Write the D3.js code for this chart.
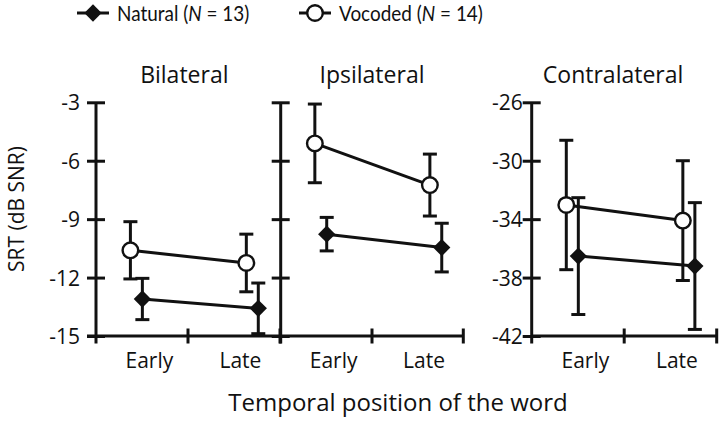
<!DOCTYPE html>
<html><head><meta charset="utf-8">
<script src="https://cdn.jsdelivr.net/npm/d3@7"></script>
<style>
html,body{margin:0;padding:0;background:#fff;}
text{font-family:"Open Sans",Lato,sans-serif;fill:#111;}
</style></head>
<body><svg id="c" width="720" height="421"></svg>
<script>
const categories = ["Early", "Late"];
const panelTitles = ["Bilateral", "Ipsilateral", "Contralateral"];
const seriesNames = ["Natural", "Vocoded"];
const seriesN = [13, 14];
const naturalMean = [[-13.1, -13.58], [-9.77, -10.46], [-36.53, -37.21]];
const naturalErr  = [[1.06, 1.3], [0.86, 1.25], [4.0, 4.34]];
const vocodedMean = [[-10.6, -11.25], [-5.11, -7.25], [-33.03, -34.1]];
const vocodedErr  = [[1.47, 1.48], [2.02, 1.59], [4.43, 4.1]];
const yDomains = [[-15, -3], [-15, -3], [-42, -26]];
const yTicks = [[-3, -6, -9, -12, -15], [-3, -6, -9, -12, -15], [-26, -30, -34, -38, -42]];
const showYLabels = [true, false, true];

const svg = d3.select("#c");
const black = "#111";
const SW = 3;

// layout
const panelX = [96, 280.7, 531.7];
const panelW = [184, 182.6, 185];
const yTop = 102.3, yBot = 336;
const titleFrac = [0.48, 0.5, 0.44];

panelTitles.forEach((title, p) => {
  const x0 = panelX[p], w = panelW[p];
  const y = d3.scaleLinear().domain(yDomains[p]).range([yBot, yTop]);
  const xc = d3.scalePoint().domain(categories).range([x0 + 0.22 * w, x0 + 0.85 * w]);
  const xl = d3.scalePoint().domain(categories).range([x0 + 0.29 * w, x0 + 0.785 * w]);
  const g = svg.append("g");

  // y axis
  const ya = d3.axisLeft(y).tickValues(yTicks[p]).tickSizeInner(-9).tickSizeOuter(0)
    .tickPadding(showYLabels[p] ? (p === 0 ? 16 : 9) : 0)
    .tickFormat(showYLabels[p] ? (d => String(d)) : "");
  const yg = g.append("g").attr("transform", `translate(${x0},0)`).call(ya);
  yg.select(".domain").remove();
  yg.selectAll(".tick line").attr("x1", -9).attr("x2", 9).attr("stroke", black).attr("stroke-width", SW);
  yg.selectAll(".tick text").attr("font-size", 21).style("font-family", "'Open Sans'").attr("fill", black).attr("dy", "0.36em");
  g.append("line").attr("x1", x0).attr("x2", x0).attr("y1", yTop).attr("y2", yBot + 7.5)
    .attr("stroke", black).attr("stroke-width", SW);

  // x axis
  g.append("line").attr("x1", p === 0 ? x0 - 9 : x0).attr("x2", x0 + w).attr("y1", yBot).attr("y2", yBot)
    .attr("stroke", black).attr("stroke-width", SW);
  [0.5, 1].forEach(f => {
    g.append("line").attr("x1", x0 + f * w).attr("x2", x0 + f * w).attr("y1", yBot - 7.5).attr("y2", yBot + 7.5)
      .attr("stroke", black).attr("stroke-width", SW);
  });
  categories.forEach(c => {
    g.append("text").attr("x", xl(c)).attr("y", 368).attr("text-anchor", "middle").attr("font-size", 21).text(c);
  });

  // title
  g.append("text").attr("x", x0 + titleFrac[p] * w).attr("y", 83).attr("text-anchor", "middle")
    .attr("font-size", 23).text(title);

  const series = [
    {name: "Vocoded", mean: vocodedMean[p], err: vocodedErr[p], off: -0.033 * w},
    {name: "Natural", mean: naturalMean[p], err: naturalErr[p], off: 0.032 * w}
  ];
  series.forEach(s => {
    const pts = categories.map((c, i) => ({x: xc(c) + s.off, m: s.mean[i], e: s.err[i]}));
    pts.forEach(d => {
      const y1 = y(d.m + d.e), y2 = y(d.m - d.e);
      g.append("line").attr("x1", d.x).attr("x2", d.x).attr("y1", y1).attr("y2", y2).attr("stroke", black).attr("stroke-width", SW);
      [y1, y2].forEach(yy => g.append("line").attr("x1", d.x - 7).attr("x2", d.x + 7).attr("y1", yy).attr("y2", yy)
        .attr("stroke", black).attr("stroke-width", SW));
    });
    g.append("path").datum(pts).attr("d", d3.line().x(d => d.x).y(d => y(d.m)))
      .attr("fill", "none").attr("stroke", black).attr("stroke-width", SW);
    pts.forEach(d => {
      if (s.name === "Natural") {
        g.append("path").attr("d", d3.symbol(d3.symbolDiamond2, 190)())
          .attr("transform", `translate(${d.x},${y(d.m)})`).attr("fill", black);
      } else {
        g.append("circle").attr("cx", d.x).attr("cy", y(d.m)).attr("r", 7.8)
          .attr("fill", "#fff").attr("stroke", black).attr("stroke-width", 2.4);
      }
    });
  });
});

// y axis title
svg.append("text").attr("transform", "translate(24,209) rotate(-90)").attr("text-anchor", "middle")
  .attr("font-size", 21).text("SRT (dB SNR)");
// x axis title
svg.append("text").attr("x", 398).attr("y", 411).attr("text-anchor", "middle").attr("font-size", 24)
  .text("Temporal position of the word");

// legend
const legX = [77, 299];
seriesNames.forEach((n, i) => {
  const lg = svg.append("g").attr("transform", `translate(${legX[i]},13)`);
  lg.append("line").attr("x1", 0).attr("x2", 32).attr("stroke", black).attr("stroke-width", SW);
  if (i === 0) {
    lg.append("path").attr("d", d3.symbol(d3.symbolDiamond2, 190)()).attr("transform", "translate(16,0)").attr("fill", black);
  } else {
    lg.append("circle").attr("cx", 16).attr("r", 7.8).attr("fill", "#fff").attr("stroke", black).attr("stroke-width", 2.4);
  }
  const t = lg.append("g").attr("transform", "translate(40,7.5) scale(0.88,1)")
    .append("text").attr("x", 0).attr("y", 0).attr("font-size", 21.5).style("font-family", "Lato");
  t.append("tspan").text(n + " (");
  t.append("tspan").attr("font-style", "italic").text("N");
  t.append("tspan").text(" = " + seriesN[i] + ")");
});
</script></body></html>
